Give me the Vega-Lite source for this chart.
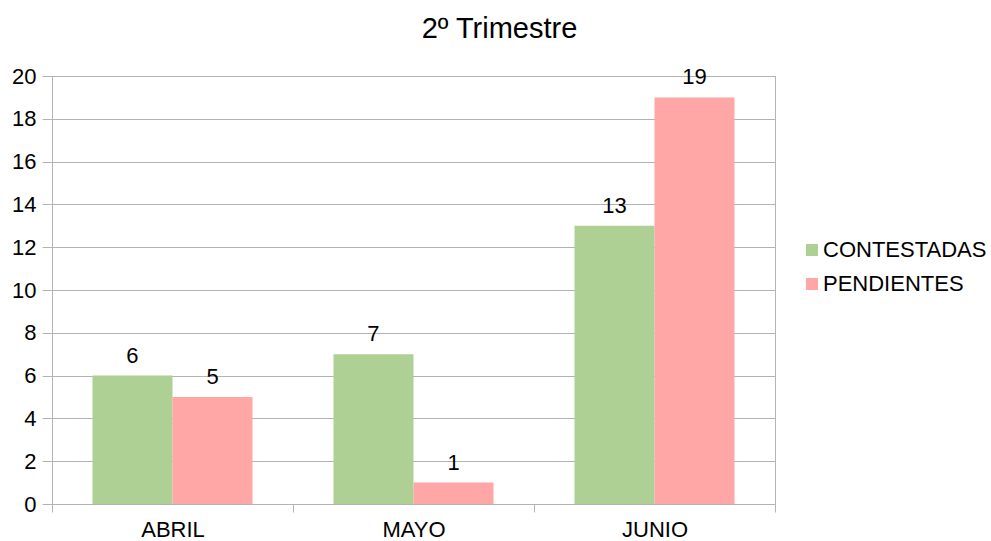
{
  "$schema": "https://vega.github.io/schema/vega-lite/v6.json",
  "autosize": "none",
  "width": 723,
  "height": 428,
  "padding": {"left": 52, "top": 76, "right": 216, "bottom": 37},
  "background": "white",
  "config": {
    "font": "Liberation Sans",
    "view": {"stroke": "#b3b3b3", "strokeWidth": 1}
  },
  "title": {
    "text": "2º Trimestre",
    "fontSize": 29,
    "fontWeight": "normal",
    "color": "#000000",
    "font": "Liberation Sans",
    "dx": 86,
    "offset": 21
  },
  "data": {
    "values": [
      {"mes": "ABRIL", "serie": "CONTESTADAS", "valor": 6},
      {"mes": "ABRIL", "serie": "PENDIENTES", "valor": 5},
      {"mes": "MAYO", "serie": "CONTESTADAS", "valor": 7},
      {"mes": "MAYO", "serie": "PENDIENTES", "valor": 1},
      {"mes": "JUNIO", "serie": "CONTESTADAS", "valor": 13},
      {"mes": "JUNIO", "serie": "PENDIENTES", "valor": 19}
    ]
  },
  "encoding": {
    "x": {
      "field": "mes",
      "type": "nominal",
      "sort": ["ABRIL", "MAYO", "JUNIO"],
      "scale": {"paddingInner": 0, "paddingOuter": 0},
      "axis": {
        "title": null,
        "labelAngle": 0,
        "labelFontSize": 22,
        "labelColor": "#000000",
        "labelPadding": 7,
        "tickBand": "extent",
        "tickColor": "#b3b3b3",
        "tickSize": 8,
        "domainColor": "#b3b3b3"
      }
    },
    "xOffset": {
      "field": "serie",
      "type": "nominal",
      "scale": {"paddingInner": 0, "paddingOuter": 0.506}
    },
    "y": {
      "field": "valor",
      "type": "quantitative",
      "scale": {"domain": [0, 20]},
      "axis": {
        "title": null,
        "values": [0, 2, 4, 6, 8, 10, 12, 14, 16, 18, 20],
        "labelFontSize": 22,
        "labelColor": "#000000",
        "labelPadding": 6,
        "tickColor": "#b3b3b3",
        "tickSize": 10,
        "gridColor": "#b3b3b3",
        "domainColor": "#b3b3b3"
      }
    }
  },
  "layer": [
    {
      "mark": {"type": "bar"},
      "encoding": {
        "color": {
          "field": "serie",
          "type": "nominal",
          "scale": {"domain": ["CONTESTADAS", "PENDIENTES"], "range": ["#afd095", "#ffa6a6"]},
          "legend": {
            "title": null,
            "orient": "none",
            "legendX": 749,
            "legendY": 163,
            "symbolType": "square",
            "symbolSize": 144,
            "symbolStrokeWidth": 0,
            "labelFontSize": 22,
            "labelColor": "#000000",
            "labelLimit": 400,
            "rowPadding": 12,
            "labelOffset": 0
          }
        }
      }
    },
    {
      "mark": {"type": "text", "baseline": "alphabetic", "dy": -13, "fontSize": 22, "color": "#000000"},
      "encoding": {
        "text": {"field": "valor", "type": "quantitative"}
      }
    }
  ]
}
